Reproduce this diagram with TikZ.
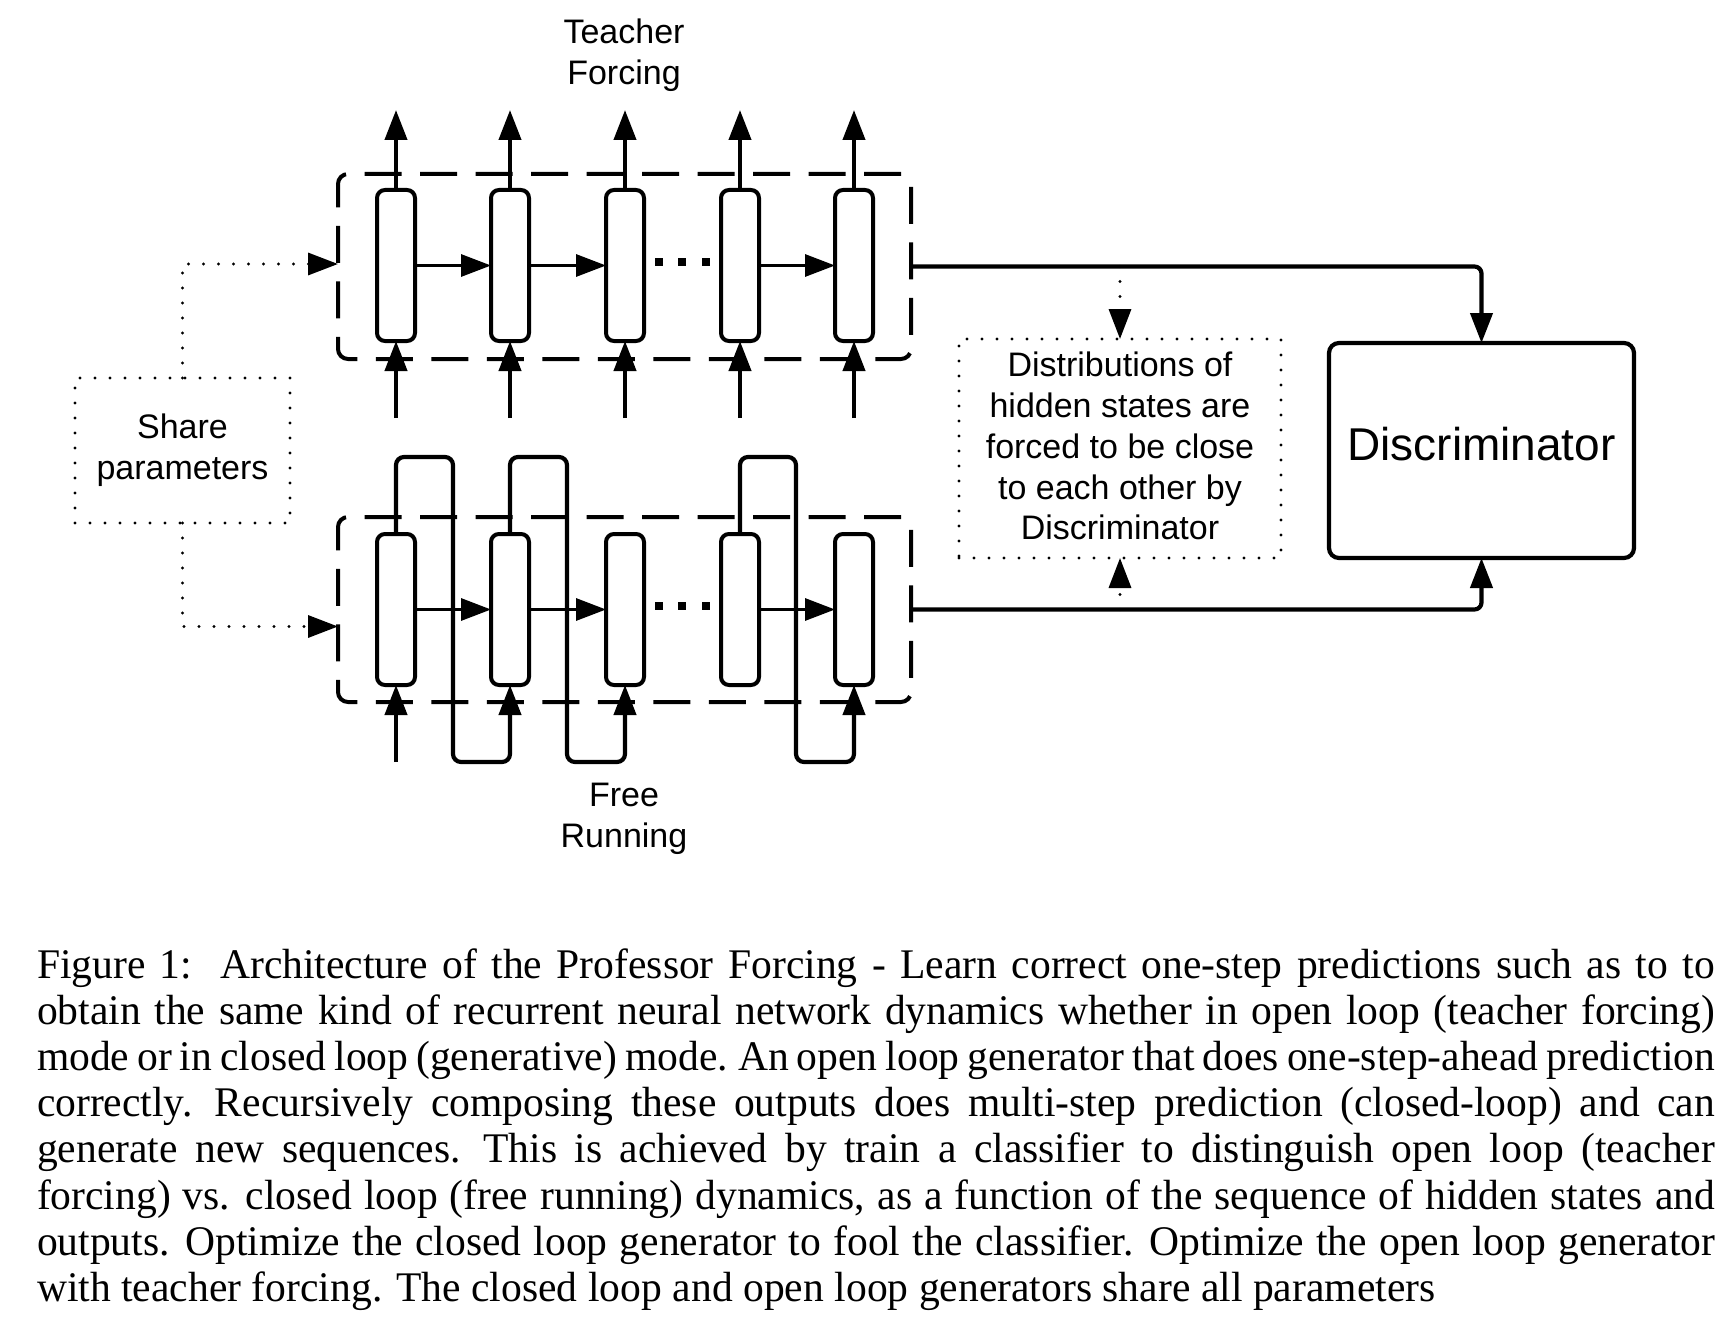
\documentclass[tikz,border=0pt]{standalone}
\usepackage{fontspec}
\setmainfont{Liberation Serif}
\newfontfamily\capfont[FakeStretch=0.985]{Liberation Serif}
\newfontfamily\arialf{Liberation Sans}
\usetikzlibrary{arrows.meta}
\newcommand\capspaces{\spaceskip=0.25em plus 0.25em minus 0.14em\relax\xspaceskip=0.33em plus 0.3em minus 0.2em\relax}
\newcommand\capline[1]{\hbox to 839pt{\capspaces #1}}
\newcommand\caplast[1]{\hbox{\capspaces #1}}
\begin{document}
\begin{tikzpicture}[x=0.5pt,y=-0.5pt,
  every node/.style={inner sep=0pt, outer sep=0pt},
  cell/.style={draw, line width=2pt, rounded corners=4pt, minimum width=19pt, minimum height=75.5pt},
  gbox/.style={draw, line width=2pt, dash pattern=on 18.5pt off 9.25pt, rounded corners=5pt, minimum width=286.5pt, minimum height=92.5pt},
  dotbox/.style={draw, line width=1.7pt, line cap=round, dash pattern=on 0pt off 7.5pt},
  arr/.style={-{Triangle[length=15pt,width=11pt]}, line width=2.1pt},
  harr/.style={-{Triangle[length=15pt,width=11pt]}, line width=1.6pt},
  dotarr/.style={-{Triangle[length=15pt,width=11pt]}, line width=1.7pt, line cap=round, dash pattern=on 0pt off 7.5pt},
  sq/.style={fill, minimum size=4pt},
  lbl/.style={font=\arialf\fontsize{17}{20.4}\selectfont, align=center}]
\useasboundingbox (0,0) rectangle (1726,1322);
\fill[white] (0,0) rectangle (1726,1322);

% generator boxes
\node[gbox] (tbox) at (624.5,266.5) {};
\node[gbox] (bbox) at (624.5,609.5) {};

% cells
\foreach \i/\x in {1/396,2/510,3/625,4/740,5/854}{
  \node[cell] (t\i) at (\x,265.5) {};
  \node[cell] (b\i) at (\x,609.5) {};
  \coordinate (to\i) at (\x,110);
  \coordinate (ti\i) at (\x,418);
}
% top outputs and inputs
\foreach \i in {1,...,5}{
  \draw[arr] (t\i.north) -- (to\i);
  \draw[arr] (ti\i) -- (t\i.south);
}
% horizontal recurrences
\draw[harr] (t1.east) -- (t2.west);
\draw[harr] (t2.east) -- (t3.west);
\draw[harr] (t4.east) -- (t5.west);
\draw[harr] (b1.east) -- (b2.west);
\draw[harr] (b2.east) -- (b3.west);
\draw[harr] (b4.east) -- (b5.west);
% dots
\node[sq] (d1) at (659,262) {};
\node[sq] (d2) at (682,262) {};
\node[sq] (d3) at (706,262) {};
\node[sq] (e1) at (659,606) {};
\node[sq] (e2) at (682,606) {};
\node[sq] (e3) at (706,606) {};

% free running loops
\coordinate (bi1) at (396,762);
\draw[arr] (bi1) -- (b1.south);
\coordinate (k1a) at (453,457); \coordinate (k1b) at (453,762);
\coordinate (k2a) at (567,457); \coordinate (k2b) at (567,762);
\coordinate (k4a) at (796,457); \coordinate (k4b) at (796,762);
\draw[arr, rounded corners=4pt] (b1.north) |- (k1a) -- (k1b) -| (b2.south);
\draw[arr, rounded corners=4pt] (b2.north) |- (k2a) -- (k2b) -| (b3.south);
\draw[arr, rounded corners=4pt] (b4.north) |- (k4a) -- (k4b) -| (b5.south);

% labels
\node[lbl] (tf) at (624,55) {Teacher\\Forcing};
\node[lbl] (fr) at (624,819) {Free\\Running};

% share parameters
\node[dotbox, lbl, minimum width=107.5pt, minimum height=72.5pt] (share) at (182.5,450.5) {Share\\parameters};
\draw[dotarr] (share.north) |- ([yshift=1.25pt]tbox.west);
\draw[dotarr] (share.south) |- ([yshift=-8.5pt]bbox.west);

% distributions box
\node[dotbox, lbl, minimum width=161pt, minimum height=109.5pt, text depth=2.5pt] (dist) at (1120,448.5) {Distributions of\\hidden states are\\forced to be close\\to each other by\\Discriminator};

% discriminator
\node[draw, line width=2.1pt, rounded corners=5pt, minimum width=152.5pt, minimum height=107.5pt, text depth=6.6pt, font=\arialf\fontsize{23}{27}\selectfont] (disc) at (1481.5,450.5) {Discriminator};
\draw[arr, rounded corners=3.5pt] (tbox.east) -| (disc.north);
\draw[arr, rounded corners=3.5pt] (bbox.east) -| (disc.south);
\coordinate (dt) at (1120,266.5);
\coordinate (db) at (1120,609.5);
\draw[dotarr] (dt) -- (dist.north);
\draw[dotarr] (db) -- (dist.south);

% caption
\node[anchor=base west, text width=839pt, font={\capfont\fontsize{21.1}{23.1}\selectfont}] (cap) at (37,978) {%
\capline{Figure 1:\hskip 0.55em plus 0.3em minus 0.1em Architecture of the Professor Forcing - Learn correct one-step predictions such as to to}\par
\capline{obtain the same kind of recurrent neural network dynamics whether in open loop (teacher forcing)}\par
\capline{mode or in closed loop (generative) mode. An open loop generator that does one-step-ahead prediction}\par
\capline{correctly. Recursively composing these outputs does multi-step prediction (closed-loop) and can}\par
\capline{generate new sequences. This is achieved by train a classifier to distinguish open loop (teacher}\par
\capline{forcing) vs. closed loop (free running) dynamics, as a function of the sequence of hidden states and}\par
\capline{outputs. Optimize the closed loop generator to fool the classifier. Optimize the open loop generator}\par
\caplast{with teacher forcing. The closed loop and open loop generators share all parameters}\par};
\end{tikzpicture}
\end{document}
